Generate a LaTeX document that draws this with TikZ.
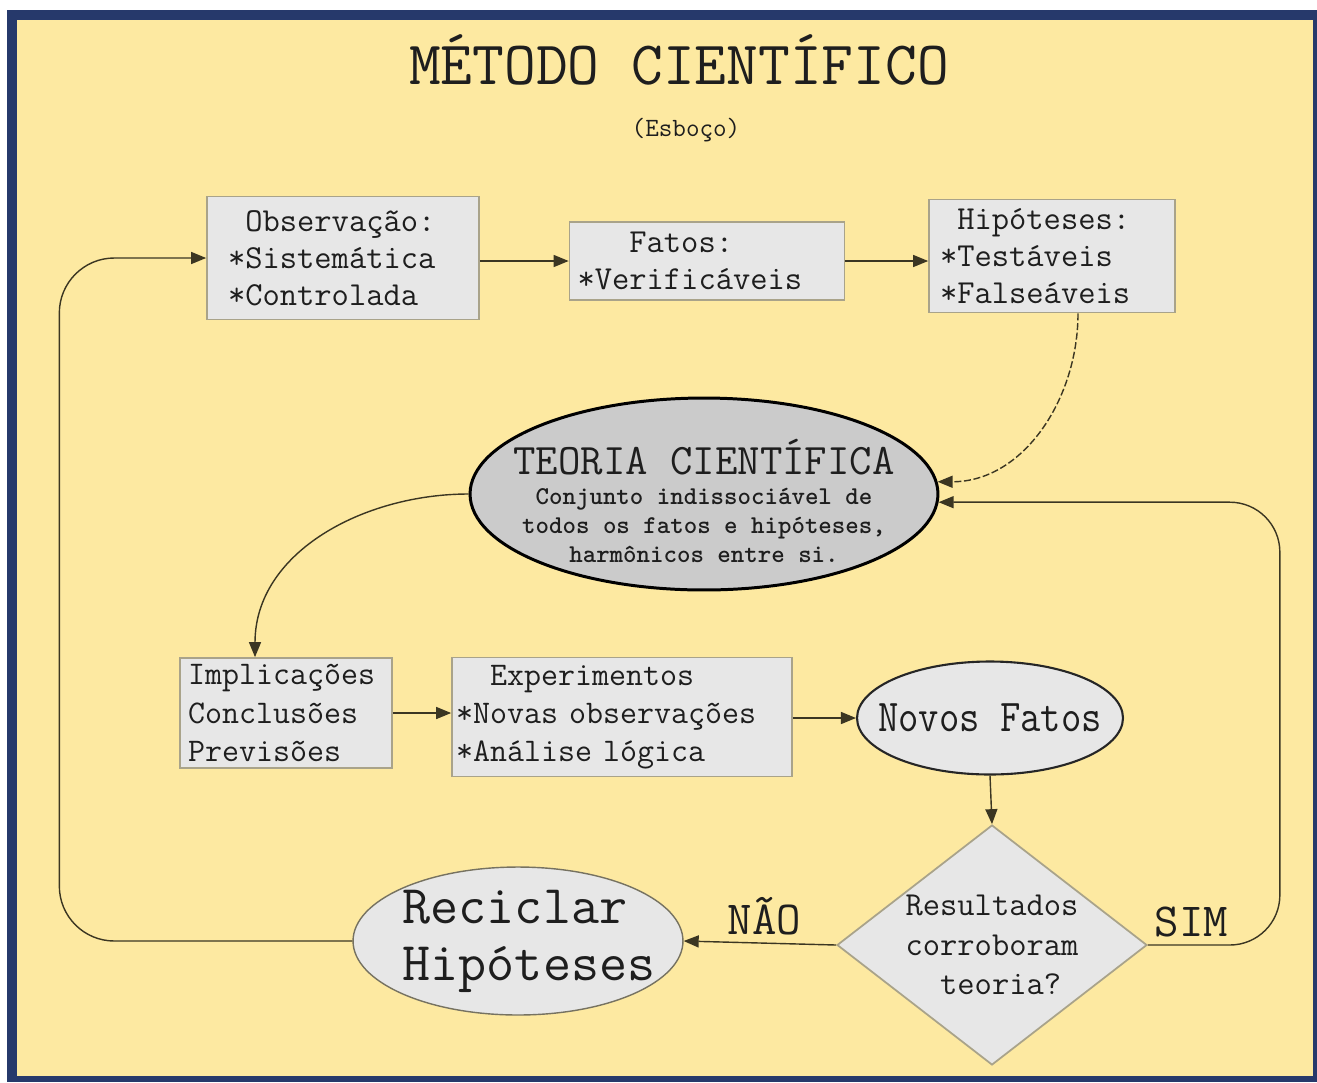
\documentclass[tikz,border=0pt]{standalone}
\renewcommand{\familydefault}{\ttdefault}
\usetikzlibrary{shapes.geometric}
\usetikzlibrary{arrows.meta}

\definecolor{fundo}{HTML}{FDE9A1}
\definecolor{moldura}{HTML}{26396B}
\definecolor{caixafill}{HTML}{E7E7E7}
\definecolor{caixaline}{HTML}{A9A38A}
\definecolor{teoriafill}{HTML}{CBCBCB}
\definecolor{linha}{HTML}{3B3622}
\definecolor{texto}{HTML}{1E1E1E}

\begin{document}
\begin{tikzpicture}[x=0.02cm,y=-0.02cm,
  every node/.style={text=texto},
  caixa/.style={draw=caixaline,fill=caixafill,line width=1pt,align=left,inner ysep=0pt,font=\fontsize{19.1}{21}\selectfont},
  seta/.style={-{Triangle[length=0.3cm,width=0.24cm]},draw=linha,line width=0.8pt},
  rotulo/.style={font=\fontsize{27}{30}\selectfont,inner sep=0.15cm}]
\useasboundingbox (0,0) rectangle (1317,1082);
\fill[white] (0,0) rectangle (1317,1082);
\fill[moldura] (7,10) rectangle (1317,1082);
\fill[fundo] (17,20) rectangle (1313,1076);

% titulo
\node[anchor=base,font=\fontsize{35.1}{40}\selectfont] (titulo) at (679,84) {MÉTODO CIENTÍFICO};
\node[anchor=base,font=\fontsize{15}{18}\selectfont] (esboco) at (686,136) {(Esboço)};

% linha de cima
\node[caixa,text width=4.6cm,inner xsep=0.42cm,minimum height=2.46cm] (obs) at (343,258) {\phantom{*}Observação:\\{}*Sistemática\\{}*Controlada};
\node[caixa,text width=5.18cm,inner xsep=0.16cm,minimum height=1.56cm] (fatos) at (707,261) {\phantom{***}Fatos:\\{}*Verificáveis};
\node[caixa,text width=4.48cm,inner xsep=0.22cm,minimum height=2.26cm] (hip) at (1052,256) {\phantom{*}Hipóteses:\\{}*Testáveis\\{}*Falseáveis};
\draw[seta] (obs.east |- fatos.west) -- (fatos.west);
\draw[seta] (fatos.east) -- (fatos.east -| hip.west);

% teoria
\node[ellipse,draw=black,line width=1.7pt,fill=teoriafill,minimum width=9.36cm,minimum height=3.84cm,
  inner xsep=-0.8cm,inner ysep=-0.5cm,align=center,font=\fontsize{14.6}{16.7}\selectfont\bfseries] (teoria) at (704,494)
  {{\fontsize{24.8}{28}\selectfont\mdseries\rule{0pt}{1cm}TEORIA CIENTÍFICA}\\Conjunto indissociável de\\todos os fatos e hipóteses,\\harmônicos entre si.};
\draw[seta,dash pattern=on 4pt off 1.5pt] ([xshift=0.52cm]hip.south) to[out=-90,in=0] (teoria.3);

% linha do meio
\node[caixa,text width=3.92cm,inner xsep=0.16cm,minimum height=2.2cm,font=\fontsize{18.8}{21.8}\selectfont] (impl) at (286,713) {Implicações\\Conclusões\\Previsões};
\node[caixa,text width=6.64cm,inner xsep=0.08cm,minimum height=2.38cm,font=\fontsize{18.8}{21.8}\selectfont] (exp) at (622,717) {\phantom{**}Experimentos\\{}*Novas observações\\{}*Análise lógica};
\node[ellipse,draw=black!85,line width=1.2pt,fill=caixafill,minimum width=5.32cm,minimum height=2.26cm,
  inner xsep=-0.6cm,inner ysep=0pt,font=\fontsize{22.5}{26}\selectfont] (novos) at (990,718) {\scalebox{1}[1.15]{Novos Fatos}};
\draw[seta] (teoria.west) to[out=180,in=90] ([xshift=-0.62cm]impl.north);
\draw[seta] (impl.east) -- (impl.east -| exp.west);
\draw[seta] (exp.east |- novos.west) -- (novos.west);

% decisao
\node[diamond,aspect=1.29,draw=caixaline,line width=1pt,fill=caixafill,minimum width=6.2cm,minimum height=4.8cm,
  inner sep=-0.1cm,align=left,font=\fontsize{19.1}{22.4}\selectfont] (decisao) at (992,945) {Resultados\\corroboram\\\phantom{**}teoria?};
\node[ellipse,draw=caixaline!70!black,line width=0.8pt,fill=caixafill,minimum width=6.6cm,minimum height=2.96cm,
  inner xsep=-0.6cm,inner ysep=-0.2cm,align=left,font=\fontsize{31}{32.5}\selectfont] (recic) at (518,941) {\hspace*{0.44cm}Reciclar\\\hspace*{0.44cm}Hipóteses};
\draw[seta] (novos.south) -- (decisao.north);
\draw[seta] (decisao.west) -- node[rotulo,pos=0.47,above] (nao) {NÃO} (recic.east);
\draw[seta,rounded corners=1cm] (decisao.east) -- node[rotulo,pos=0.33,above] (sim) {SIM} ++(132,0) |- (teoria.-2);
\draw[seta,rounded corners=1.1cm] (recic.west) -- ++(-293,0) |- (obs.west);
\end{tikzpicture}
\end{document}
